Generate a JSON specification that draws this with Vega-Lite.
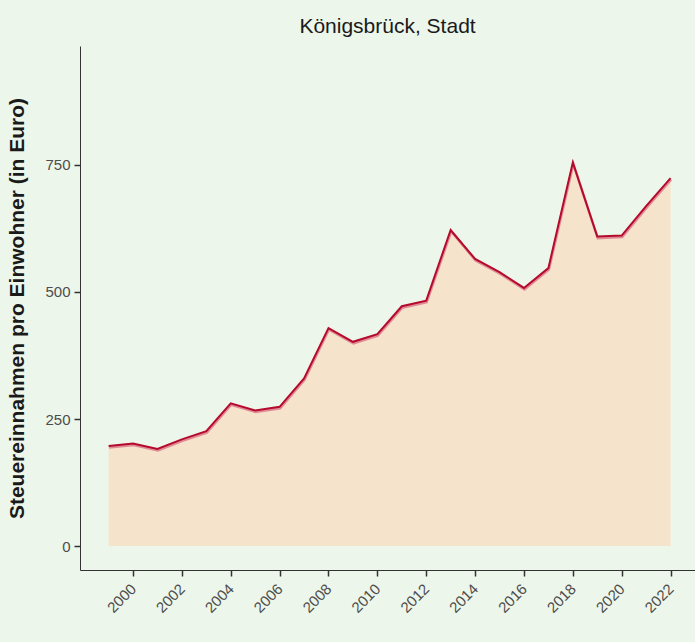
{
  "$schema": "https://vega.github.io/schema/vega-lite/v6.json",
  "autosize": {"type": "none"},
  "width": 615,
  "height": 524,
  "padding": {"left": 80, "top": 46, "right": 0, "bottom": 72},
  "background": "#EDF6EA",
  "config": {
    "view": {"stroke": null},
    "font": "Liberation Sans",
    "title": {"font": "Liberation Sans", "fontSize": 21, "fontWeight": "normal", "color": "#1a1a1a", "offset": 9}
  },
  "title": {"text": "Königsbrück, Stadt", "anchor": "middle"},
  "data": {
    "values": [
      {"jahr": 1999, "wert": 197},
      {"jahr": 2000, "wert": 202},
      {"jahr": 2001, "wert": 191},
      {"jahr": 2002, "wert": 210},
      {"jahr": 2003, "wert": 226},
      {"jahr": 2004, "wert": 281},
      {"jahr": 2005, "wert": 267},
      {"jahr": 2006, "wert": 274},
      {"jahr": 2007, "wert": 330},
      {"jahr": 2008, "wert": 429},
      {"jahr": 2009, "wert": 402},
      {"jahr": 2010, "wert": 417},
      {"jahr": 2011, "wert": 472},
      {"jahr": 2012, "wert": 483},
      {"jahr": 2013, "wert": 622},
      {"jahr": 2014, "wert": 565},
      {"jahr": 2015, "wert": 539},
      {"jahr": 2016, "wert": 508},
      {"jahr": 2017, "wert": 547},
      {"jahr": 2018, "wert": 755},
      {"jahr": 2019, "wert": 609},
      {"jahr": 2020, "wert": 611},
      {"jahr": 2021, "wert": 669},
      {"jahr": 2022, "wert": 724}
    ]
  },
  "encoding": {
    "x": {
      "field": "jahr",
      "type": "quantitative",
      "scale": {"domain": [1997.83, 2023.0], "nice": false, "zero": false},
      "axis": {
        "title": null,
        "values": [2000, 2002, 2004, 2006, 2008, 2010, 2012, 2014, 2016, 2018, 2020, 2022],
        "format": "d",
        "labelAngle": -45,
        "labelAlign": "right",
        "labelBaseline": "middle",
        "labelPadding": 10,
        "labelFontSize": 15,
        "labelColor": "#4D4D4D",
        "labelFont": "Liberation Sans",
        "grid": false,
        "domainColor": "#333333",
        "domainWidth": 1,
        "tickColor": "#333333",
        "tickWidth": 1.5,
        "tickSize": 6,
        "labelOverlap": false
      }
    },
    "y": {
      "field": "wert",
      "type": "quantitative",
      "scale": {"domain": [-47, 984], "nice": false, "zero": false},
      "axis": {
        "title": "Steuereinnahmen pro Einwohner (in Euro)",
        "titleFontSize": 21,
        "titleFontWeight": "bold",
        "titleColor": "#1a1a1a",
        "titleFont": "Liberation Sans",
        "titlePadding": 17,
        "values": [0, 250, 500, 750],
        "labelFontSize": 15,
        "labelColor": "#4D4D4D",
        "labelFont": "Liberation Sans",
        "labelPadding": 4,
        "grid": false,
        "domainColor": "#333333",
        "domainWidth": 1,
        "tickColor": "#333333",
        "tickWidth": 1.5,
        "tickSize": 6
      }
    }
  },
  "layer": [
    {
      "mark": {"type": "area", "color": "#F5E3CB", "opacity": 1},
      "encoding": {"y2": {"datum": 0}}
    },
    {
      "mark": {"type": "line", "color": "#E08A96", "strokeWidth": 2.5, "yOffset": 1.5, "xOffset": 0.5},
      "encoding": {}
    },
    {
      "mark": {"type": "line", "color": "#B40A2C", "strokeWidth": 2},
      "encoding": {}
    }
  ]
}
